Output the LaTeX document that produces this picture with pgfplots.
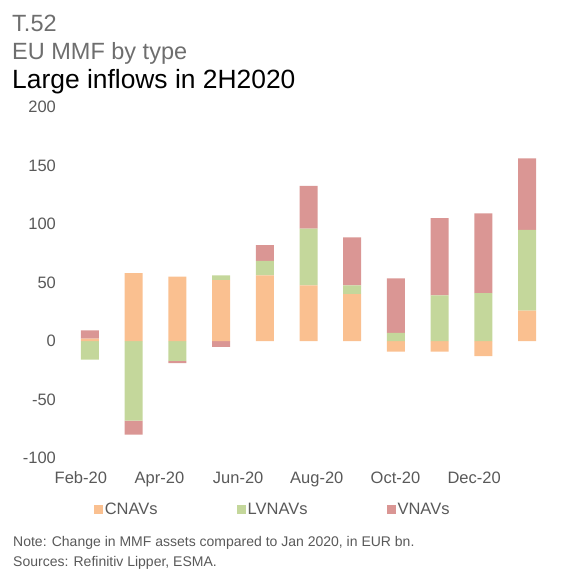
\documentclass[border=0pt]{standalone}
\usepackage{pgfplots}
\pgfplotsset{compat=1.18}
\usepackage{pgfplotstable}
\usepackage{fontspec}
\setmainfont{Liberation Sans}
\definecolor{cnav}{HTML}{FAC090}
\definecolor{lvnav}{HTML}{C4D79B}
\definecolor{vnav}{HTML}{DA9694}
\definecolor{tickgray}{HTML}{595959}
\definecolor{titlegray}{HTML}{6E6E6E}

% x: month index (0 = Feb-20 ... 10 = Dec-20)
% Cp/Lp/Vp: positive parts, Cn/Ln/Vn: negative parts
\pgfplotstableread{
x Cp Lp Vp Cn Ln Vn
0 2 0 7 0 -16 0
1 58 0 0 0 -68 -12
2 55 0 0 0 -17 -2
3 52 4 0 0 0 -5
4 56 12.5 13.5 0 0 0
5 47.5 48.5 36.5 0 0 0
6 40 7.5 41 0 0 0
7 0 7 46.5 -9 0 0
8 0 39 66 -9 0 0
9 0 41 68 -13 0 0
10 26 69 61 0 0 0
}\data

\begin{document}
\begin{tikzpicture}
\path[use as bounding box] (0pt,0pt) rectangle (580pt,570pt);
\node[anchor=base west, inner sep=0pt, text=titlegray, font=\fontsize{23.5}{27}\selectfont] at (12pt,538pt) {T.52};
\node[anchor=base west, inner sep=0pt, text=titlegray, font=\fontsize{23.5}{27}\selectfont] at (12pt,510.5pt) {EU MMF by type};
\node[anchor=base west, inner sep=0pt, text=black, font=\fontsize{26.4}{31}\selectfont] at (12pt,481pt) {Large inflows in 2H2020};
\node[anchor=base west, inner sep=0pt, text=tickgray, font=\fontsize{14}{17}\selectfont] at (13pt,24pt) {Note: Change in MMF assets compared to Jan 2020, in EUR bn.};
\node[anchor=base west, inner sep=0pt, text=tickgray, font=\fontsize{14}{17}\selectfont] at (13pt,4pt) {Sources: Refinitiv Lipper, ESMA.};
\begin{axis}[
  at={(59.4pt,112pt)}, anchor=south west,
  scale only axis, width=502.6pt, height=351pt,
  xmin=-0.7, xmax=10.8, ymin=-100, ymax=200,
  axis line style={draw=none}, major tick length=0pt,
  ytick={-100,-50,0,50,100,150,200},
  yticklabels={-100,-50,0,50,100,150,200},
  xtick={-0.21,1.59,3.39,5.19,6.99,8.79},
  xticklabels={Feb-20,Apr-20,Jun-20,Aug-20,Oct-20,Dec-20},
  ticklabel style={font=\fontsize{16.5}{19}\selectfont, text=tickgray},
  xticklabel style={yshift=-10pt},
  ybar stacked, bar width=18pt,
  legend columns=3,
  legend style={at={(0.068,-0.148)}, anchor=west, draw=none, fill=none,
    inner sep=0pt, font=\fontsize{16.5}{19}\selectfont, text=tickgray,
    /tikz/every even column/.append style={column sep=77pt}},
  sq/.style={legend image code/.code={\fill[##1] (0pt,-4.5pt) rectangle (9pt,4.5pt);}},
]
\addplot[fill=cnav, draw=none, sq] table[x=x, y=Cp] {\data};
\addlegendentry{CNAVs}
\addplot[fill=lvnav, draw=none, sq] table[x=x, y=Lp] {\data};
\addlegendentry{LVNAVs}
\addplot[fill=vnav, draw=none, sq] table[x=x, y=Vp] {\data};
\addlegendentry{VNAVs}
\addplot[fill=cnav, draw=none, forget plot] table[x=x, y=Cn] {\data};
\addplot[fill=lvnav, draw=none, forget plot] table[x=x, y=Ln] {\data};
\addplot[fill=vnav, draw=none, forget plot] table[x=x, y=Vn] {\data};
\end{axis}
\end{tikzpicture}
\end{document}
